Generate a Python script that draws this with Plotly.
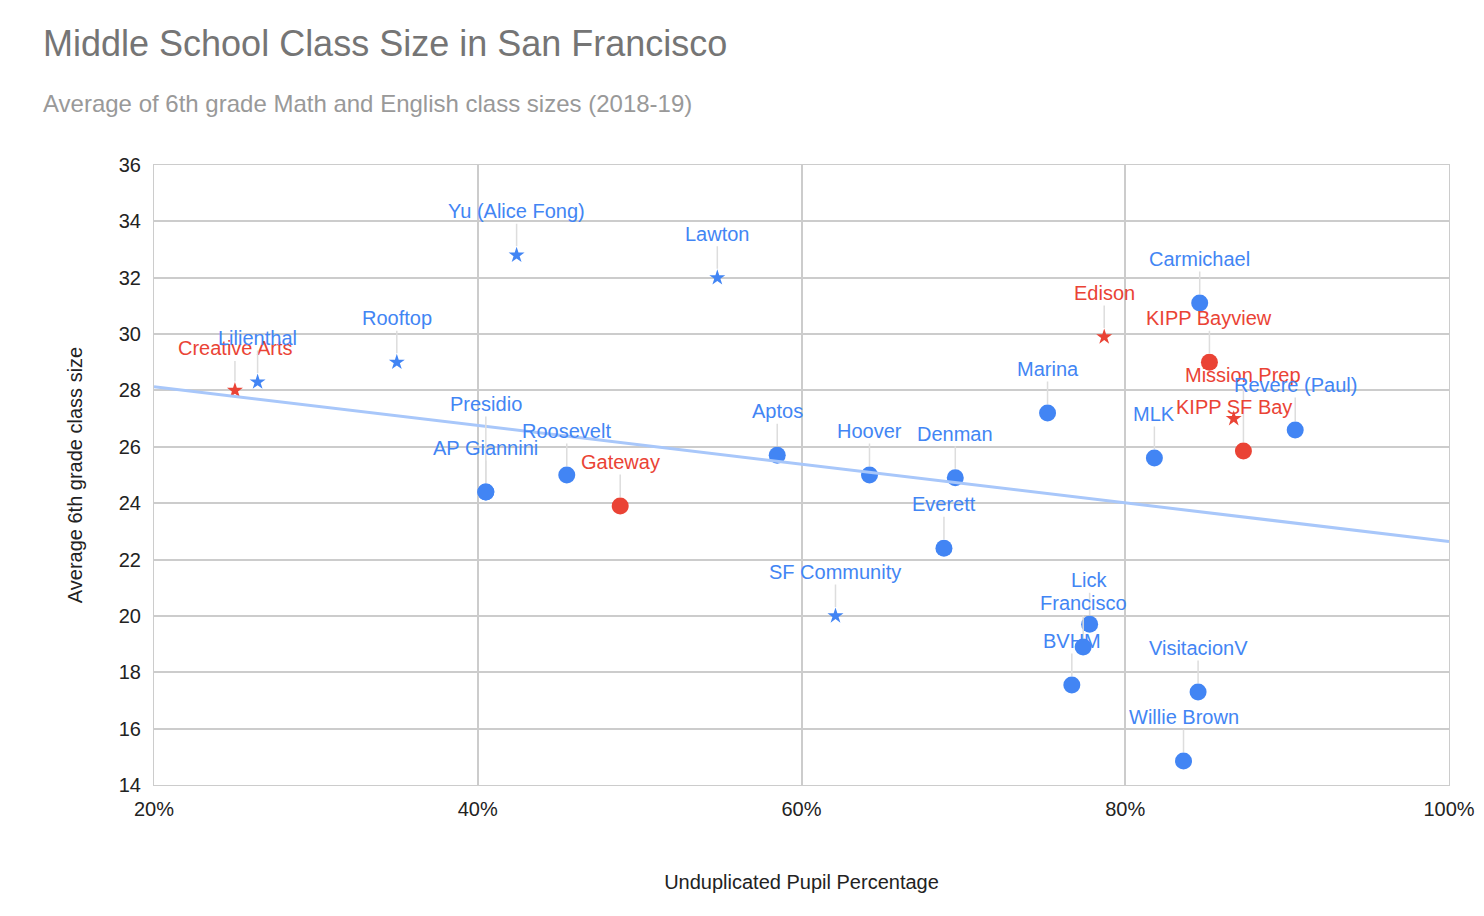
import plotly.graph_objects as go
import numpy as np

# school, unduplicated pupil %, avg class size, group
names = ["Creative Arts", "Lilienthal", "Rooftop", "Yu (Alice Fong)", "Lawton", "Presidio",
         "AP Giannini", "Roosevelt", "Gateway", "Aptos", "Hoover", "Denman", "Everett",
         "SF Community", "Marina", "Edison", "Carmichael", "KIPP Bayview", "Mission Prep",
         "KIPP SF Bay", "Revere (Paul)", "MLK", "Lick", "Francisco", "BVHM", "VisitacionV",
         "Willie Brown"]
pct = [25.0, 26.4, 35.0, 42.4, 54.8, 40.5, 40.5, 45.5, 48.8, 58.5, 64.2, 69.5, 68.8,
       62.1, 75.2, 78.7, 84.6, 85.2, 87.3, 86.7, 90.5, 81.8, 77.8, 77.4, 76.7, 84.5, 83.6]
size = [28.0, 28.3, 29.0, 32.8, 32.0, 24.4, 24.4, 25.0, 23.9, 25.7, 25.0, 24.9, 22.4,
        20.0, 27.2, 29.9, 31.1, 29.0, 25.85, 27.0, 26.6, 25.6, 19.7, 18.9, 17.55, 17.3, 14.85]
red = [1, 0, 0, 0, 0, 0, 0, 0, 1, 0, 0, 0, 0, 0, 0, 1, 0, 1, 1, 1, 0, 0, 0, 0, 0, 0, 0]
star = [1, 1, 1, 1, 1, 0, 0, 0, 0, 0, 0, 0, 0, 1, 0, 1, 0, 0, 0, 1, 0, 0, 0, 0, 0, 0, 0]

# label offsets (px above point)
offs = {"Presidio": 88, "Mission Prep": 76, "KIPP SF Bay": 12, "Lilienthal": 44,
        "Creative Arts": 42, "Revere (Paul)": 45}

BLUE, RED = "#4285F4", "#EA4335"
FONT = "Arial, 'Liberation Sans', sans-serif"

fig = go.Figure()
x = np.array(pct) / 100
y = np.array(size)
for r in (0, 1):
    for s in (0, 1):
        idx = [i for i in range(len(names)) if red[i] == r and star[i] == s]
        fig.add_trace(go.Scatter(
            x=x[idx], y=y[idx], mode="markers", showlegend=False,
            marker=dict(color=RED if r else BLUE, size=12 if s else 17,
                        symbol="star" if s else "circle", line=dict(width=0))))

# linear trendline
k, b = np.polyfit(x, y, 1)
tx = np.array([0.2, 1.0])
fig.add_trace(go.Scatter(x=tx, y=k * tx + b, mode="lines", showlegend=False,
                         line=dict(color="#A8C7FA", width=3), hoverinfo="skip"))

for i, n in enumerate(names):
    fig.add_annotation(x=x[i], y=y[i], text=n, showarrow=True, arrowhead=0,
                       arrowcolor="#DDDDDD", arrowwidth=1.5, ax=0, ay=-offs.get(n, 44),
                       standoff=9, font=dict(color=RED if red[i] else BLUE, size=20, family=FONT))

fig.add_annotation(text="Middle School Class Size in San Francisco", xref="paper", yref="paper",
                   x=-0.087, y=1.16, xanchor="left", yanchor="bottom", showarrow=False,
                   font=dict(size=36, color="#757575", family=FONT))
fig.add_annotation(text="Average of 6th grade Math and English class sizes (2018-19)",
                   xref="paper", yref="paper", x=-0.087, y=1.075, xanchor="left",
                   yanchor="bottom", showarrow=False,
                   font=dict(size=24, color="#999999", family=FONT))

fig.update_layout(
    width=1484, height=916, plot_bgcolor="white", paper_bgcolor="white",
    margin=dict(l=146, r=43, t=157, b=139, autoexpand=False),
    font=dict(family=FONT, color="#222222"),
    xaxis=dict(range=[0.2, 1.0], tickvals=[0.2, 0.4, 0.6, 0.8, 1.0], tickformat=".0%",
               showgrid=True, gridcolor="#CCCCCC", gridwidth=1.5, zeroline=False,
               showline=True, linecolor="#CCCCCC", mirror=True, automargin=False,
               ticks="outside", ticklen=6, tickcolor="white",
               title=dict(text="Unduplicated Pupil Percentage", font=dict(size=20), standoff=55),
               tickfont=dict(size=20)),
    yaxis=dict(range=[14, 36], dtick=2, showgrid=True, gridcolor="#CCCCCC", gridwidth=1.5,
               zeroline=False, showline=True, linecolor="#CCCCCC", mirror=True, automargin=False,
               ticks="outside", ticklen=8, tickcolor="white",
               title=dict(text="Average 6th grade class size", font=dict(size=20), standoff=30),
               tickfont=dict(size=20)),
)
fig.write_html("out.html")
